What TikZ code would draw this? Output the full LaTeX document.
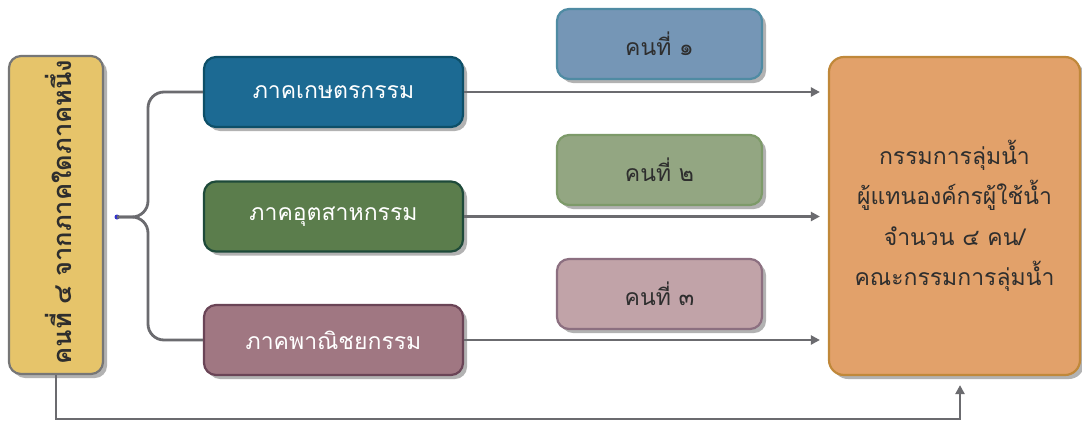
\documentclass[tikz,border=0pt]{standalone}
\usepackage{fontspec}
\newfontfamily\thai[Script=Thai]{Loma}
\usetikzlibrary{arrows.meta,shadows,positioning}
\definecolor{yelfill}{HTML}{E6C46A}
\definecolor{yeldraw}{HTML}{767676}
\definecolor{bluefill}{HTML}{1C6A93}
\definecolor{bluedraw}{HTML}{0D4F68}
\definecolor{grnfill}{HTML}{5B7D4C}
\definecolor{grndraw}{HTML}{1E4A3A}
\definecolor{mauvefill}{HTML}{A07782}
\definecolor{mauvedraw}{HTML}{6A4456}
\definecolor{s1fill}{HTML}{7596B6}
\definecolor{s1draw}{HTML}{4F8BA3}
\definecolor{s2fill}{HTML}{93A682}
\definecolor{s2draw}{HTML}{7D9A69}
\definecolor{s3fill}{HTML}{C1A3A8}
\definecolor{s3draw}{HTML}{8C6F80}
\definecolor{orgfill}{HTML}{E2A16A}
\definecolor{orgdraw}{HTML}{C0883A}
\definecolor{linegray}{HTML}{6B6B6F}
\definecolor{txtdark}{HTML}{2E2E2E}
\tikzset{
  shad/.style={drop shadow={opacity=0.3,shadow xshift=4pt,shadow yshift=-4pt,fill=black}},
  basebox/.style={shad,rounded corners=12pt,line width=2.2pt,inner sep=0pt,align=center,
     font=\thai\fontsize{23}{40.5}\selectfont},
  bigbox/.style={basebox,minimum width=259pt,minimum height=70pt,text=white},
  smallbox/.style={basebox,minimum width=205pt,minimum height=70pt,text=txtdark},
  conn/.style={draw=linegray,line width=2.8pt},
  arr/.style={conn,-{Triangle[length=9pt,width=9pt]}},
}
\begin{document}
\begin{tikzpicture}[x=1pt,y=-1pt]
\useasboundingbox (0,0) rectangle (1082,421);
\fill[white] (0,0) rectangle (1082,421);
% left yellow box
\node[basebox,fill=yelfill,draw=yeldraw,minimum width=94pt,minimum height=318pt] (yel) at (56,215) {};
\node[rotate=90,font=\thai\bfseries\fontsize{25.5}{40}\selectfont,text=txtdark,inner sep=0pt] (yeltxt) at (58,212) {คนที่ ๔ จากภาคใดภาคหนึ่ง};
% sector boxes
\node[bigbox,fill=bluefill,draw=bluedraw] (b1) at (333.5,92) {ภาคเกษตรกรรม};
\node[bigbox,fill=grnfill,draw=grndraw] (b2) at (333.5,216.5) {ภาคอุตสาหกรรม};
\node[bigbox,fill=mauvefill,draw=mauvedraw] (b3) at (333.5,340) {ภาคพาณิชยกรรม};
% person boxes
\node[smallbox,fill=s1fill,draw=s1draw] (p1) at (659.5,44) {คนที่ ๑};
\node[smallbox,fill=s2fill,draw=s2draw] (p2) at (659.5,170) {คนที่ ๒};
\node[smallbox,fill=s3fill,draw=s3draw] (p3) at (659.5,294) {คนที่ ๓};
% orange box
\node[basebox,fill=orgfill,draw=orgdraw,rounded corners=15pt,minimum width=251pt,minimum height=318pt,text=txtdark] (org) at (954.5,216) {กรรมการลุ่มน้ำ\\ผู้แทนองค์กรผู้ใช้น้ำ\\จำนวน ๔ คน/\\คณะกรรมการลุ่มน้ำ};
% brace
\coordinate (jx) at (148,217);
\fill[blue!60!gray] (117,217) circle (2.5pt) coordinate (dot);
\draw[conn,rounded corners=16pt] (b1.west) -| (jx) -- (dot);
\draw[conn,rounded corners=16pt] (b3.west) -| (jx) -- (dot);
% arrows to orange box
\draw[arr,shorten >=8pt] (b1.east) -- (b1.east -| org.west);
\draw[arr,shorten >=8pt] (b2.east) -- (b2.east -| org.west);
\draw[arr,shorten >=8pt] (b3.east) -- (b3.east -| org.west);
% bottom connector
\coordinate (bot) at (500,419);
\draw[arr,shorten >=9pt] (yel.south) |- (bot) -| ([xshift=5.5pt]org.south);
\end{tikzpicture}
\end{document}
